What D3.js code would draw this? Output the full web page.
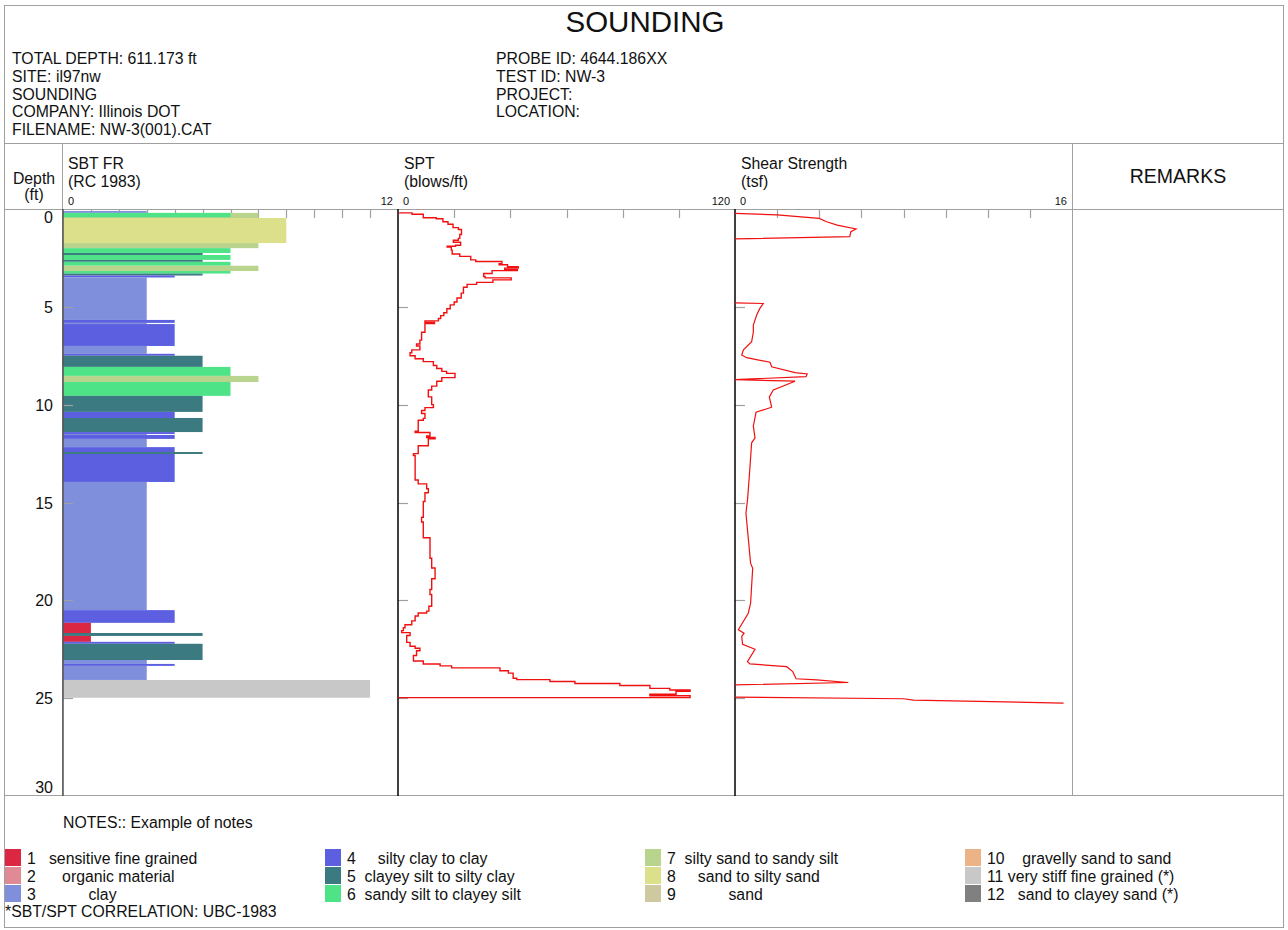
<!DOCTYPE html>
<html>
<head>
<meta charset="utf-8">
<script src="https://cdn.jsdelivr.net/npm/d3@7"></script>
<style>
body { margin: 0; background: #fff; }
text { font-family: "Liberation Sans", Arial, sans-serif; fill: #111; }
</style>
</head>
<body>
<div id="container"></div>
<script>
// header info
var infoLeft = ["TOTAL DEPTH: 611.173 ft", "SITE: il97nw", "SOUNDING", "COMPANY: Illinois DOT", "FILENAME: NW-3(001).CAT"];
var infoRight = ["PROBE ID: 4644.186XX", "TEST ID: NW-3", "PROJECT:", "LOCATION:"];

// SBT layers (ft) and zone
var sbtTop    = [0.1, 0.2, 0.2, 0.46, 1.74, 2.0, 2.25, 2.35, 2.6, 2.7, 2.9, 3.17, 3.3, 3.4, 3.5, 5.67, 5.82, 5.88, 7.0, 7.4, 7.5, 8.07, 8.53, 8.84, 9.55, 10.37, 10.68, 11.4, 11.5, 11.55, 11.75, 12.17, 12.42, 12.52, 13.95, 20.5, 21.15, 21.67, 21.82, 22.12, 22.22, 23.05, 23.25, 23.35, 24.07];
var sbtBottom = [0.2, 0.46, 0.42, 1.74, 2.0, 2.25, 2.35, 2.6, 2.7, 2.9, 3.17, 3.3, 3.4, 3.5, 5.67, 5.82, 5.88, 7.0, 7.4, 7.5, 8.07, 8.53, 8.84, 9.55, 10.37, 10.68, 11.4, 11.5, 11.55, 11.75, 12.17, 12.42, 12.52, 13.95, 20.5, 21.15, 21.67, 21.82, 22.12, 22.22, 23.05, 23.25, 23.35, 24.07, 24.98];
var sbtZone   = [3, 7, 6, 8, 7, 6, 5, 6, 5, 6, 7, 6, 5, 4, 3, 4, 3, 4, 3, 4, 5, 6, 7, 6, 5, 4, 5, 4, 3, 4, 3, 4, 5, 4, 3, 4, 1, 5, 1, 4, 5, 3, 4, 3, 11];

// SPT (blows/ft), value holds from its depth to the next one
var sptDepth = [0.18, 0.2, 0.27, 0.45, 0.5, 0.65, 0.78, 0.95, 1.05, 1.3, 1.5, 1.6, 1.7, 1.85, 1.9, 1.95, 2.1, 2.3, 2.42, 2.6, 2.68, 2.8, 2.85, 2.95, 3.02, 3.1, 3.15, 3.3, 3.45, 3.52, 3.62, 3.75, 3.85, 4.0, 4.3, 4.55, 4.75, 4.9, 5.1, 5.3, 5.45, 5.6, 5.72, 5.8, 5.85, 6.3, 6.7, 6.9, 7.0, 7.2, 7.35, 7.5, 7.65, 7.8, 8.0, 8.15, 8.3, 8.4, 8.62, 8.8, 9.05, 9.25, 9.6, 10.0, 10.15, 10.3, 10.45, 10.7, 10.8, 11.35, 11.42, 11.6, 11.68, 11.75, 12.1, 12.5, 12.6, 13.35, 13.85, 14.05, 14.3, 14.5, 14.95, 15.75, 16.0, 16.8, 17.85, 18.35, 18.9, 19.45, 19.7, 20.3, 20.55, 20.65, 20.8, 21.05, 21.25, 21.4, 21.55, 21.65, 21.8, 22.15, 22.35, 22.45, 22.58, 22.82, 23.1, 23.25, 23.35, 23.45, 23.6, 23.72, 23.98, 24.05, 24.15, 24.25, 24.35, 24.5, 24.58, 24.65, 24.8, 24.88, 24.97];
var sptBlows = [0.5, 5, 9, 13.6, 16, 17.8, 19.6, 21.5, 22.6, 22, 21.5, 19.7, 22.3, 20.5, 17.5, 19, 19.3, 22, 25.9, 27.7, 37, 36, 39, 42.8, 38, 42.5, 33.5, 30.5, 31, 40.3, 33.8, 28, 24.6, 23.3, 22.5, 21, 20, 18.6, 17.4, 16.3, 15.2, 14.4, 9.6, 13, 9.6, 8.4, 7.8, 6.6, 7.8, 4.9, 4.3, 6.1, 9, 12.6, 13.8, 15.6, 17.3, 20.3, 15.6, 13.8, 12, 10.8, 12, 12.6, 9.6, 8.4, 9.6, 9, 7.2, 6.1, 11.4, 10.2, 13.2, 10.8, 7.2, 5.5, 6.1, 6.1, 7.2, 10.2, 10.8, 9.6, 9, 8.4, 9, 11.4, 12, 13.2, 12, 11.4, 12, 11, 10.2, 7.2, 6.1, 4.9, 2.5, 1.9, 1.3, 4.3, 3.1, 4.3, 6.1, 7.8, 6.6, 5.5, 9, 15, 19.1, 36.3, 39.3, 41, 42.3, 54.1, 63, 79, 89.7, 96.8, 104, 99, 89.7, 104, 0];

// Shear strength (tsf), null = no reading
var shearDepth = [0.22, 0.3, 0.48, 0.65, 0.82, 1.02, 1.16, 1.41, 1.53, 3.0, 4.8, 4.83, 5.08, 5.42, 5.93, 6.3, 6.78, 7.2, 7.46, 7.6, 7.83, 8.06, 8.36, 8.43, 8.57, 8.72, 8.8, 9.25, 9.6, 10.13, 10.39, 11.1, 11.7, 11.95, 13.2, 14.8, 15.55, 18.1, 18.36, 20.15, 20.66, 21.5, 21.68, 21.85, 22.25, 22.5, 23.13, 23.25, 23.39, 23.64, 24.01, 24.07, 24.2, 24.32, 24.6, 24.95, 25.03, 25.1, 25.25];
var shearTsf   = [0, 2.0, 4.0, 4.35, 4.85, 5.75, 5.5, 5.45, 0, null, 0, 1.34, 1.18, 1.03, 0.87, 0.87, 0.79, 0.4, 0.32, 0.55, 1.66, 1.74, 2.85, 3.43, 3.37, 0, 2.85, 1.82, 1.63, 1.74, 1.0, 0.87, 0.95, 0.79, 0.71, 0.6, 0.52, 0.74, 0.84, 0.74, 0.63, 0.16, 0.43, 0.32, 0.36, 0.95, 0.59, 0.71, 2.45, 2.74, 2.9, 3.88, 5.38, 0, null, 0, 8.0, 8.47, 15.6];

// legend
var zoneColors = ["#dc2743", "#e08a96", "#7f8fdc", "#5b5fe0", "#3b7a80", "#4fe388", "#b9d48c", "#dde08a", "#cfc9a2", "#ecb486", "#c8c8c8", "#808080"];
var zoneLabels = ["1   sensitive fine grained", "2      organic material", "3            clay",
                  "4     silty clay to clay", "5  clayey silt to silty clay", "6  sandy silt to clayey silt",
                  "7  silty sand to sandy silt", "8     sand to silty sand", "9            sand",
                  "10    gravelly sand to sand", "11 very stiff fine grained (*)", "12   sand to clayey sand (*)"];

var depthTicks = [0, 5, 10, 15, 20, 25, 30];

(function()
{
	var W = 1288, H = 930;
	var grey = "#a0a0a0";
	var fs = 15.8; // body text size
	var svg = d3.select("#container").append("svg").attr("width", W).attr("height", H);

	var plotTop = 209, plotBottom = 796;
	var y = d3.scaleLinear().domain([0, 30]).range([plotTop, plotBottom]);
	var xSbt = d3.scaleLinear().domain([0, 12]).range([63, 398]);
	var xSpt = d3.scaleLinear().domain([0, 120]).range([398, 735]);
	var xShear = d3.scaleLinear().domain([0, 16]).range([735, 1072]);

	// frame
	svg.append("rect").attr("x", 4.5).attr("y", 5.5).attr("width", 1279).attr("height", 922)
		.attr("fill", "none").attr("stroke", grey);
	[143.5, plotTop + 0.5, plotBottom - 0.5].forEach(function(yy){
		svg.append("line").attr("x1", 4).attr("x2", 1284).attr("y1", yy).attr("y2", yy)
			.attr("stroke", grey);
	});
	[62.5, 1072.5].forEach(function(xx){
		svg.append("line").attr("x1", xx).attr("x2", xx).attr("y1", 143).attr("y2", plotBottom)
			.attr("stroke", grey);
	});

	// title + info
	svg.append("text").attr("x", 645).attr("y", 32).attr("text-anchor", "middle")
		.style("font-size", "29.5px").text("SOUNDING");
	svg.selectAll(null).data(infoLeft).enter().append("text")
		.attr("x", 12).attr("y", function(d, i){ return 64 + i * 17.75; })
		.style("font-size", fs + "px").text(function(d){ return d; });
	svg.selectAll(null).data(infoRight).enter().append("text")
		.attr("x", 496).attr("y", function(d, i){ return 64 + i * 17.75; })
		.style("font-size", fs + "px").text(function(d){ return d; });

	// column headers
	function label(x, yy, txt, size, anchor)
	{
		svg.append("text").attr("x", x).attr("y", yy).attr("text-anchor", anchor || "start")
			.style("font-size", size + "px").text(txt);
	}
	label(34, 184, "Depth", fs, "middle");
	label(34, 200, "(ft)", fs, "middle");
	label(68, 169, "SBT FR", fs); label(68, 187, "(RC 1983)", fs);
	label(404, 169, "SPT", fs); label(404, 187, "(blows/ft)", fs);
	label(741, 169, "Shear Strength", fs); label(741, 187, "(tsf)", fs);
	label(1178, 183, "REMARKS", 19.5, "middle");
	[[xSbt, 12], [xSpt, 120], [xShear, 16]].forEach(function(a){
		var sc = a[0], dom = sc.domain();
		label(sc(dom[0]) + 5, 205, "0", 11);
		label(sc(dom[1]) - 5, 205, String(a[1]), 11, "end");
	});

	// top ticks
	function topTicks(sc, vals)
	{
		svg.selectAll(null).data(vals).enter().append("line")
			.attr("x1", function(d){ return Math.round(sc(d)) + 0.5; })
			.attr("x2", function(d){ return Math.round(sc(d)) + 0.5; })
			.attr("y1", plotTop).attr("y2", plotTop + 9)
			.attr("stroke", grey).attr("stroke-width", 1.2);
	}
	topTicks(xSbt, d3.range(1, 12));
	topTicks(xSpt, d3.range(20, 120, 20));
	topTicks(xShear, d3.range(2, 16, 2));

	// depth labels
	svg.selectAll(null).data(depthTicks).enter().append("text")
		.attr("x", 53).attr("y", function(d){ return Math.min(Math.max(y(d), 217), 787) + 6; })
		.attr("text-anchor", "end").style("font-size", "16px")
		.text(function(d){ return d; });

	// SBT bars
	var layers = sbtZone.map(function(z, i){ return {top: sbtTop[i], bottom: sbtBottom[i], zone: z}; });
	svg.selectAll(null).data(layers).enter().append("rect")
		.attr("x", xSbt(0))
		.attr("y", function(d){ return y(d.top); })
		.attr("width", function(d){ return xSbt(d.zone) - xSbt(0); })
		.attr("height", function(d){ return y(d.bottom) - y(d.top); })
		.attr("fill", function(d){ return zoneColors[d.zone - 1]; });

	// depth ticks inside columns
	[xSbt(0), xSpt(0), xShear(0)].forEach(function(x0){
		svg.selectAll(null).data(depthTicks.slice(1, 6)).enter().append("line")
			.attr("x1", x0).attr("x2", x0 + 10)
			.attr("y1", function(d){ return Math.round(y(d)) + 0.5; })
			.attr("y2", function(d){ return Math.round(y(d)) + 0.5; })
			.attr("stroke", grey).attr("stroke-width", 1.2);
	});

	// column axes
	svg.append("line").attr("x1", 63).attr("x2", 63).attr("y1", plotTop).attr("y2", plotBottom)
		.attr("stroke", "#555").attr("stroke-width", 1.5);
	[xSpt(0), xShear(0)].forEach(function(x0){
		svg.append("line").attr("x1", x0).attr("x2", x0).attr("y1", plotTop).attr("y2", plotBottom)
			.attr("stroke", "#000").attr("stroke-width", 1.5);
	});

	// SPT step line
	var sptPts = [];
	for (var i = 0; i < sptDepth.length; i++)
	{
		sptPts.push([sptBlows[i], sptDepth[i]]);
		if (i < sptDepth.length - 1) sptPts.push([sptBlows[i], sptDepth[i + 1]]);
	}
	svg.append("path").datum(sptPts)
		.attr("d", d3.line().x(function(d){ return xSpt(d[0]); }).y(function(d){ return y(d[1]); }))
		.attr("fill", "none").attr("stroke", "#f01010").attr("stroke-width", 1.4);

	// shear strength line
	var shearPts = shearDepth.map(function(d, i){ return [shearTsf[i], d]; });
	svg.append("path").datum(shearPts)
		.attr("d", d3.line().defined(function(d){ return d[0] !== null; })
			.x(function(d){ return xShear(d[0]); }).y(function(d){ return y(d[1]); }))
		.attr("fill", "none").attr("stroke", "#f01010").attr("stroke-width", 1.2);

	// notes + legend
	label(63, 828, "NOTES:: Example of notes", fs);
	var leg = svg.selectAll(null).data(zoneLabels).enter().append("g")
		.attr("transform", function(d, i){
			return "translate(" + (5 + Math.floor(i / 3) * 320) + "," + (849 + (i % 3) * 18) + ")";
		});
	leg.append("rect").attr("width", 16).attr("height", 17)
		.attr("fill", function(d, i){ return zoneColors[i]; });
	leg.append("text").attr("x", 22).attr("y", 14.5).style("font-size", fs + "px")
		.style("white-space", "pre").attr("xml:space", "preserve")
		.text(function(d){ return d; });
	label(5, 917, "*SBT/SPT CORRELATION: UBC-1983", fs);
})();
</script>
</body>
</html>
